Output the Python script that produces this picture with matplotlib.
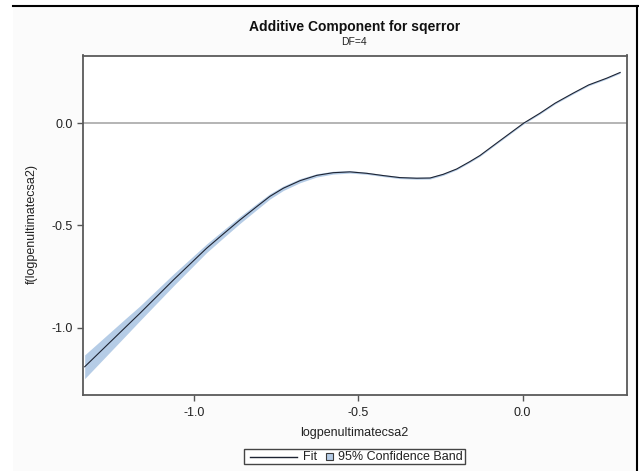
import matplotlib
matplotlib.use("Agg")
import matplotlib.pyplot as plt
from matplotlib.patches import Rectangle
from matplotlib.lines import Line2D
import numpy as np

plt.rcParams['font.family'] = ['Liberation Sans', 'DejaVu Sans']

# ---- data ----
x_vals = [-1.334, -1.208, -1.166, -1.064, -0.963, -0.912, -0.861, -0.810,
          -0.770, -0.729, -0.678, -0.627, -0.577, -0.526, -0.475, -0.425,
          -0.374, -0.323, -0.282, -0.242, -0.201, -0.161, -0.130, -0.073,
          0.003, 0.053, 0.099, 0.154, 0.201, 0.256, 0.297]
fit_vals = [-1.191, -0.995, -0.930, -0.767, -0.612, -0.542, -0.473, -0.408,
            -0.358, -0.318, -0.281, -0.255, -0.242, -0.238, -0.245, -0.256,
            -0.266, -0.269, -0.268, -0.250, -0.224, -0.188, -0.158, -0.090,
            0.000, 0.049, 0.098, 0.147, 0.187, 0.220, 0.248]
band_half = [0.058, 0.042, 0.036, 0.029, 0.021, 0.019, 0.017, 0.015,
             0.013, 0.011, 0.010, 0.008, 0.007, 0.006, 0.005, 0.005,
             0.005, 0.005, 0.005, 0.005, 0.004, 0.004, 0.004, 0.004,
             0.004, 0.004, 0.004, 0.004, 0.004, 0.004, 0.004]
x_ticks = [-1.0, -0.5, 0.0]
y_ticks = [-1.0, -0.5, 0.0]
tick_labels_x = ["-1.0", "-0.5", "0.0"]
tick_labels_y = ["-1.0", "-0.5", "0.0"]

title = "Additive Component for sqerror"
subtitle = "DF=4"
xlabel = "logpenultimatecsa2"
ylabel = "f(logpenultimatecsa2)"
legend_fit = "Fit"
legend_band = "95% Confidence Band"

W, H = 639, 471
fig = plt.figure(figsize=(W / 100, H / 100), dpi=100)
fig.patch.set_facecolor('white')

def fx(px):
    return px / W

def fy(py):
    return 1 - py / H

# light background and screenshot frame
fig.add_artist(Rectangle((fx(12.7), 0), fx(637.3) - fx(12.7), fy(6), transform=fig.transFigure,
                         facecolor='#fbfbfb', edgecolor='none', zorder=0))
fig.add_artist(Line2D([fx(12.7), fx(639)], [fy(6), fy(6)], transform=fig.transFigure,
                      color='black', lw=1.5))
fig.add_artist(Line2D([fx(637.3), fx(637.3)], [fy(6), 0], transform=fig.transFigure,
                      color='black', lw=1.5))

left, right, top, bottom = 82.7, 626.7, 55.5, 395.0
ax = fig.add_axes([fx(left), fy(bottom), fx(right) - fx(left), fy(top) - fy(bottom)])
ax.set_facecolor('white')

xv = np.array(x_vals)
fv = np.array(fit_vals)
hv = np.array(band_half)
ax.fill_between(xv, fv - hv, fv + hv, color='#b5cce6', lw=0, zorder=2)
ax.axhline(0.0, color='#a8a8a8', lw=1.2, zorder=1)
ax.plot(xv, fv, color='#1e2433', lw=0.8, zorder=3, solid_joinstyle='round')

ax.set_xlim(-1.340, 0.317)
ax.set_ylim(-1.329, 0.331)
ax.set_xticks(x_ticks)
ax.set_xticklabels(tick_labels_x)
ax.set_yticks(y_ticks)
ax.set_yticklabels(tick_labels_y)
ax.tick_params(axis='both', direction='out', length=4, width=1, color='#555555',
               labelsize=9, labelcolor='#222222')
ax.tick_params(axis='x', pad=4.5)
ax.tick_params(axis='y', pad=3)
for s in ax.spines.values():
    s.set_color('#5a5a5a')
    s.set_linewidth(1.3)

# titles and labels
fig.text(fx(355), fy(27.3), title, ha='center', va='center', fontsize=10,
         fontweight='bold', color='#111111')
fig.text(fx(354), fy(41.7), subtitle, ha='center', va='center', fontsize=7.5,
         color='#222222')
fig.text(fx(354), fy(433), xlabel, ha='center', va='center', fontsize=9, color='#222222')
fig.text(fx(31.7), fy(224), ylabel, ha='center', va='center', fontsize=9,
         rotation=90, color='#222222')

# legend drawn manually
fig.add_artist(Rectangle((fx(244), fy(464)), fx(465) - fx(244), fy(449) - fy(464),
                         transform=fig.transFigure, facecolor='white',
                         edgecolor='#444444', lw=1.0))
fig.add_artist(Line2D([fx(250), fx(296.7)], [fy(456.5), fy(456.5)],
                      transform=fig.transFigure, color='#1e2433', lw=1.0))
fig.text(fx(302.7), fy(456.8), legend_fit, ha='left', va='center', fontsize=9, color='#222222')
fig.add_artist(Rectangle((fx(326), fy(460)), fx(333.3) - fx(326), fy(453) - fy(460),
                         transform=fig.transFigure, facecolor='#b5cce6',
                         edgecolor='#3a3a3a', lw=0.8))
fig.text(fx(338.3), fy(456.8), legend_band, ha='left', va='center', fontsize=9, color='#222222')

fig.savefig("out.png", dpi=100)
